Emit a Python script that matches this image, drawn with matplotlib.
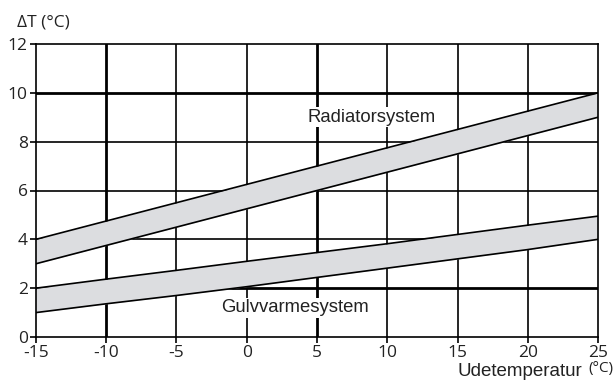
import matplotlib.pyplot as plt

plt.rcParams['axes.unicode_minus'] = False

# outdoor temperature (°C) and ΔT band edges (°C)
outdoor = [-15, -10, -5, 0, 5, 10, 15, 20, 25]
radiator_upper = [4.0, 4.75, 5.5, 6.25, 7.0, 7.75, 8.5, 9.25, 10.0]
radiator_lower = [3.0, 3.75, 4.5, 5.25, 6.0, 6.75, 7.5, 8.25, 9.0]
floor_upper = [2.0, 2.37, 2.73, 3.1, 3.46, 3.82, 4.2, 4.58, 4.95]
floor_lower = [1.0, 1.36, 1.7, 2.06, 2.44, 2.82, 3.2, 3.58, 4.0]

x_ticks = [-15, -10, -5, 0, 5, 10, 15, 20, 25]
y_ticks = [0, 2, 4, 6, 8, 10, 12]
thick_x = [-10, 5]
thick_y = [2, 10]

tick_font = 'Open Sans'
label_font = 'Liberation Sans'
band_color = '#dcdde0'
ink = '#222222'

fig = plt.figure(figsize=(6.16, 3.81), dpi=100)
ax = fig.add_axes([0.0584, 0.1155, 0.9124, 0.769])

ax.set_xlim(-15, 25)
ax.set_ylim(0, 12)

# grid, with a few heavier lines
for xv in x_ticks[1:-1]:
    ax.axvline(xv, color='black', lw=2.0 if xv in thick_x else 1.2, zorder=1)
for yv in y_ticks[1:-1]:
    ax.axhline(yv, color='black', lw=2.0 if yv in thick_y else 1.2, zorder=1)

# bands
ax.fill_between(outdoor, radiator_lower, radiator_upper, color=band_color, lw=0, zorder=2)
ax.fill_between(outdoor, floor_lower, floor_upper, color=band_color, lw=0, zorder=2)
for ys in (radiator_upper, radiator_lower, floor_upper, floor_lower):
    ax.plot(outdoor, ys, color='black', lw=1.2, zorder=3)

ax.text(8.9, 9.0, 'Radiatorsystem', ha='center', va='center', fontsize=13.3,
        family=label_font, color=ink, zorder=4,
        bbox=dict(facecolor='white', edgecolor='none', pad=1.0))
ax.text(3.4, 1.2, 'Gulvvarmesystem', ha='center', va='center', fontsize=13.3,
        family=label_font, color=ink, zorder=4,
        bbox=dict(facecolor='white', edgecolor='none', pad=1.0))

for sp in ax.spines.values():
    sp.set_linewidth(1.2)
    sp.set_zorder(5)

ax.set_xticks(x_ticks)
ax.set_yticks(y_ticks)
ax.tick_params(length=4, width=1.2, pad=2, labelsize=12.5)
for lab in ax.get_xticklabels() + ax.get_yticklabels():
    lab.set_family(tick_font)
    lab.set_color(ink)

fig.text(0.028, 0.93, 'ΔT (°C)', fontsize=12.5, family=tick_font, color=ink,
         ha='left', va='baseline')
fig.text(0.945, 0.012, 'Udetemperatur', fontsize=13.5, family=label_font, color=ink,
         ha='right', va='baseline')
fig.text(0.996, 0.024, '(°C)', fontsize=11, family=tick_font, color=ink,
         ha='right', va='baseline')

fig.savefig('out.png', dpi=100)
